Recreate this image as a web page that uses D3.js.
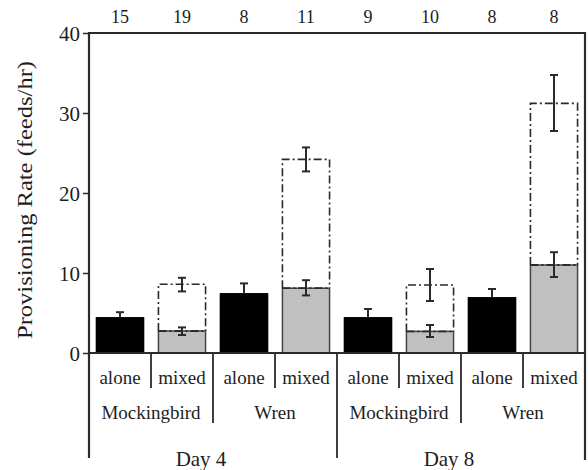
<!DOCTYPE html>
<html><head><meta charset="utf-8">
<script src="https://cdn.jsdelivr.net/npm/d3@7"></script>
</head><body style="margin:0;background:#fff"><svg id="c" width="588" height="470" font-family="Liberation Serif"></svg>
<script>
const conditions = ["alone","mixed","alone","mixed","alone","mixed","alone","mixed"];
const species = ["Mockingbird","Wren","Mockingbird","Wren"];
const days = ["Day 4","Day 8"];
const sampleSizes = [15,19,8,11,9,10,8,8];
// solid bar (black for alone, gray for mixed)
const barValues = [4.4,2.75,7.4,8.1,4.4,2.7,6.9,11.0];
const barErrLow = [null,2.25,null,7.2,null,2.0,null,9.5];
const barErrHigh = [5.1,3.2,8.7,9.1,5.5,3.5,8.0,12.6];
// dash-dot total bar for mixed
const totalValues = [null,8.6,null,24.2,null,8.5,null,31.2];
const totalErrLow = [null,7.7,null,22.7,null,6.5,null,27.75];
const totalErrHigh = [null,9.4,null,25.7,null,10.5,null,34.75];
const yTicks = [0,10,20,30,40];

const FONT = "'Liberation Serif'";
const svg = d3.select("#c");
const L=89,R=585,T=33,B=353;
const x = d3.scaleBand().domain(d3.range(8)).range([L,R]).paddingInner(0.24).paddingOuter(0.12);
const step = x.step();
const y = d3.scaleLinear().domain([0,40]).range([B,T]);
const ink="#2a2a2a";
function txt(xx,yy,s,size,anchor){
  return svg.append("text").attr("x",xx).attr("y",yy).attr("text-anchor",anchor||"middle")
    .attr("font-size",size).style("font-family",FONT).attr("fill","#1e1e1e").text(s);
}

// bars
conditions.forEach((c,i)=>{
  const x0=x(i), w=x.bandwidth();
  if(totalValues[i]!=null){
    const p=d3.path();
    p.moveTo(x0,y(barValues[i])); p.lineTo(x0,y(totalValues[i])); p.lineTo(x0+w,y(totalValues[i])); p.lineTo(x0+w,y(barValues[i]));
    svg.append("path").attr("d",p.toString()).attr("fill","none").attr("stroke",ink).attr("stroke-width",1.6).attr("stroke-dasharray","8,3,2,3");
  }
  svg.append("rect").attr("x",x0).attr("y",y(barValues[i])).attr("width",w).attr("height",B-y(barValues[i]))
    .attr("fill",c==="alone"?"#000":"#c0c0c0").attr("stroke",c==="alone"?"#000":"#444").attr("stroke-width",1.5);
  if(c==="mixed"){
    svg.append("line").attr("x1",x0).attr("x2",x0+w).attr("y1",y(barValues[i])).attr("y2",y(barValues[i]))
      .attr("stroke",ink).attr("stroke-width",1.8).attr("stroke-dasharray","8,3,2,3");
  }
});
// error bars
function err(i,lo,hi){
  const cx=x(i)+x.bandwidth()/2, cw=4;
  const g=svg.append("g").attr("stroke",ink).attr("stroke-width",2);
  g.append("line").attr("x1",cx).attr("x2",cx).attr("y1",y(lo)).attr("y2",y(hi));
  g.append("line").attr("x1",cx-cw).attr("x2",cx+cw).attr("y1",y(hi)).attr("y2",y(hi));
  g.append("line").attr("x1",cx-cw).attr("x2",cx+cw).attr("y1",y(lo)).attr("y2",y(lo));
}
conditions.forEach((c,i)=>{
  if(c==="alone"){
    const cx=x(i)+x.bandwidth()/2;
    const g=svg.append("g").attr("stroke",ink).attr("stroke-width",2);
    g.append("line").attr("x1",cx).attr("x2",cx).attr("y1",y(barValues[i])).attr("y2",y(barErrHigh[i]));
    g.append("line").attr("x1",cx-4).attr("x2",cx+4).attr("y1",y(barErrHigh[i])).attr("y2",y(barErrHigh[i]));
  } else {
    err(i,barErrLow[i],barErrHigh[i]);
    err(i,totalErrLow[i],totalErrHigh[i]);
  }
});

// frame
svg.append("line").attr("x1",L).attr("x2",R).attr("y1",T).attr("y2",T).attr("stroke",ink).attr("stroke-width",2);
svg.append("line").attr("x1",L).attr("x2",L).attr("y1",T-1).attr("y2",458).attr("stroke",ink).attr("stroke-width",2.2);
svg.append("line").attr("x1",R).attr("x2",R).attr("y1",T-1).attr("y2",460).attr("stroke",ink).attr("stroke-width",2.2);
svg.append("line").attr("x1",L).attr("x2",R).attr("y1",B).attr("y2",B).attr("stroke",ink).attr("stroke-width",2);

// y axis
const ya=svg.append("g").attr("transform",`translate(${L},0)`).call(d3.axisLeft(y).tickValues(yTicks).tickSize(6).tickPadding(3));
ya.attr("font-family",null);
ya.select(".domain").remove();
ya.selectAll("line").attr("stroke",ink).attr("stroke-width",1.5);
ya.selectAll("text").attr("font-size",21).style("font-family",FONT).attr("fill","#1e1e1e").attr("dy","0.34em");

txt(0,0,"Provisioning Rate (feeds/hr)",21).attr("transform","translate(32,200) rotate(-90)")
  .attr("textLength",278).attr("lengthAdjust","spacingAndGlyphs");

// top sample sizes
sampleSizes.forEach((n,i)=>{ txt(x(i)+x.bandwidth()/2,23,n,18); });

// bottom labels
conditions.forEach((c,i)=>{ txt(x(i)+x.bandwidth()/2,384,c,19); });
for(let k=1;k<8;k++){
  const xs=L+k*step;
  const y2 = k%4===0?458:(k%2===0?423:388);
  svg.append("line").attr("x1",xs).attr("x2",xs).attr("y1",B).attr("y2",y2).attr("stroke",ink).attr("stroke-width",1.8);
}
species.forEach((s,j)=>{ txt(L+step*(2*j+1),419,s,19); });
days.forEach((d,j)=>{ txt(L+step*(4*j+2)-12,466,d,21); });
</script></body></html>
